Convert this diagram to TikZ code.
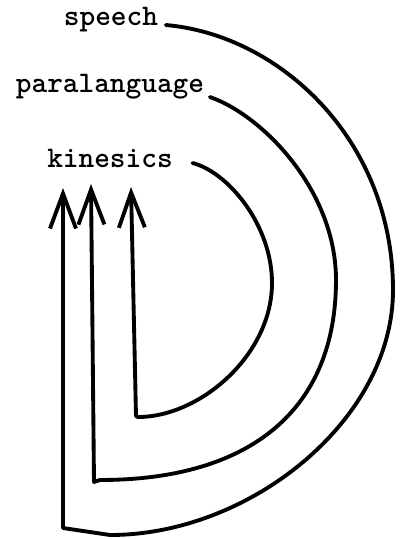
\documentclass[tikz,border=0pt]{standalone}
\usepackage{tikz}
\usetikzlibrary{arrows.meta}

\begin{document}
\begin{tikzpicture}[x=0.02cm, y=-0.02cm, font=\ttfamily\bfseries\fontsize{17}{20}\selectfont,
  >={Straight Barb[length=0.7cm, width=0.52cm]}, line width=2.2pt, line cap=round, line join=round]
\useasboundingbox (0,0) rectangle (402,539);

% labels, stacked on the left
\node[anchor=base] (speech) at (111,25) {speech};
\node[anchor=base] (para) at (110,92) {paralanguage};
\node[anchor=base] (kin) at (110,167) {kinesics};

% feet and tips of the three arrows
\coordinate (f1) at (63,528);
\coordinate (f2) at (94,482);
\coordinate (f3) at (136,416);
\coordinate (t1) at (63,188);
\coordinate (t2) at (91,184);
\coordinate (t3) at (131,187);

% outer loop: speech
\draw[->] (speech.base east) .. controls (280,35) and (393,140) .. (393,290)
  .. controls (393,420) and (250,535) .. (110,535) -- (f1) -- (t1);

% middle loop: paralanguage
\draw[->] ([shift={(-2,5)}]para.base east) .. controls (262,115) and (336,190) .. (336,280)
  .. controls (336,410) and (250,480) .. (100,480) -- (f2) -- (t2);

% inner loop: kinesics
\draw[->] ([shift={(12,-4)}]kin.base east) .. controls (228,172) and (272,225) .. (272,283)
  .. controls (272,355) and (200,417) .. (138,417) -- (f3) -- (t3);

\end{tikzpicture}
\end{document}
